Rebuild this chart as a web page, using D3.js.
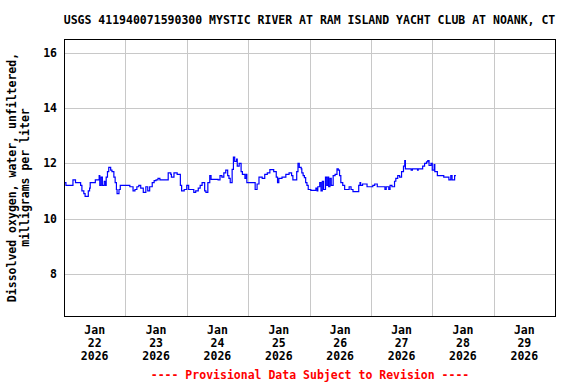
<!DOCTYPE html>
<html>
<head>
<meta charset="utf-8">
<script src="https://cdn.jsdelivr.net/npm/d3@7"></script>
<style>
  body { margin: 0; background: #fff; }
  text { font-family: "DejaVu Sans Mono", monospace; font-weight: bold; }
</style>
</head>
<body>
<div id="chart-container"></div>
<script>
// Dissolved oxygen readings (mg/L)
const obsTimes = [
  "2026-01-22 00:15","2026-01-22 00:45","2026-01-22 03:15","2026-01-22 03:30","2026-01-22 04:30","2026-01-22 05:45",
  "2026-01-22 06:30","2026-01-22 07:00","2026-01-22 07:45","2026-01-22 08:15","2026-01-22 08:45","2026-01-22 09:30",
  "2026-01-22 10:00","2026-01-22 10:15","2026-01-22 11:30","2026-01-22 12:15","2026-01-22 13:15","2026-01-22 13:45",
  "2026-01-22 14:00","2026-01-22 14:30","2026-01-22 15:00","2026-01-22 15:45","2026-01-22 16:15","2026-01-22 16:30",
  "2026-01-22 17:00","2026-01-22 17:30","2026-01-22 18:15","2026-01-22 18:45","2026-01-22 19:30","2026-01-22 20:00",
  "2026-01-22 20:30","2026-01-22 20:45","2026-01-22 21:30","2026-01-22 22:00","2026-01-22 22:45","2026-01-22 23:15",
  "2026-01-23 01:00","2026-01-23 01:45","2026-01-23 03:00","2026-01-23 03:45","2026-01-23 04:30","2026-01-23 05:15",
  "2026-01-23 06:00","2026-01-23 07:00","2026-01-23 08:00","2026-01-23 08:45","2026-01-23 09:30","2026-01-23 10:30",
  "2026-01-23 11:15","2026-01-23 12:00","2026-01-23 12:45","2026-01-23 13:30","2026-01-23 16:00","2026-01-23 16:45",
  "2026-01-23 17:45","2026-01-23 18:00","2026-01-23 19:00","2026-01-23 20:15","2026-01-23 21:15","2026-01-23 21:30",
  "2026-01-23 22:00","2026-01-23 23:00",
  "2026-01-24 00:00","2026-01-24 00:45","2026-01-24 02:00","2026-01-24 02:45","2026-01-24 03:30","2026-01-24 04:30",
  "2026-01-24 05:15","2026-01-24 06:00","2026-01-24 07:00","2026-01-24 07:30","2026-01-24 08:15","2026-01-24 09:00",
  "2026-01-24 09:30","2026-01-24 11:15","2026-01-24 12:15","2026-01-24 13:00","2026-01-24 13:45","2026-01-24 14:30",
  "2026-01-24 15:15","2026-01-24 16:00","2026-01-24 16:30","2026-01-24 17:00","2026-01-24 17:45","2026-01-24 18:15",
  "2026-01-24 18:45","2026-01-24 19:30","2026-01-24 19:45","2026-01-24 20:30","2026-01-24 21:15","2026-01-24 21:45",
  "2026-01-24 22:45","2026-01-24 23:15","2026-01-24 23:30",
  "2026-01-25 00:45","2026-01-25 02:15","2026-01-25 02:45","2026-01-25 03:30","2026-01-25 04:15","2026-01-25 05:30",
  "2026-01-25 06:30","2026-01-25 07:30","2026-01-25 08:30","2026-01-25 09:45","2026-01-25 10:00","2026-01-25 11:00",
  "2026-01-25 11:30","2026-01-25 12:00","2026-01-25 13:15","2026-01-25 14:45","2026-01-25 16:00","2026-01-25 17:00",
  "2026-01-25 17:30","2026-01-25 18:30","2026-01-25 19:00","2026-01-25 19:30","2026-01-25 20:00","2026-01-25 20:45",
  "2026-01-25 21:00","2026-01-25 21:30","2026-01-25 22:00","2026-01-25 22:30","2026-01-25 23:00","2026-01-25 23:30",
  "2026-01-26 00:30","2026-01-26 02:00","2026-01-26 02:30","2026-01-26 03:00","2026-01-26 03:15","2026-01-26 04:00",
  "2026-01-26 04:30","2026-01-26 05:00","2026-01-26 05:30","2026-01-26 06:15","2026-01-26 06:45","2026-01-26 07:15",
  "2026-01-26 07:30","2026-01-26 08:00","2026-01-26 08:30","2026-01-26 09:15","2026-01-26 10:00","2026-01-26 10:45",
  "2026-01-26 11:15","2026-01-26 11:45","2026-01-26 12:15","2026-01-26 13:00","2026-01-26 13:45","2026-01-26 15:00",
  "2026-01-26 15:30","2026-01-26 16:15","2026-01-26 17:00","2026-01-26 19:00","2026-01-26 19:15","2026-01-26 19:45",
  "2026-01-26 20:00","2026-01-26 20:45","2026-01-26 22:00","2026-01-26 22:30","2026-01-26 23:30",
  "2026-01-27 00:45","2026-01-27 01:30","2026-01-27 02:30","2026-01-27 05:00","2026-01-27 05:30","2026-01-27 06:00",
  "2026-01-27 07:00","2026-01-27 07:30","2026-01-27 08:15","2026-01-27 08:45","2026-01-27 09:15","2026-01-27 09:45",
  "2026-01-27 10:30","2026-01-27 11:15","2026-01-27 12:00","2026-01-27 12:45","2026-01-27 13:15","2026-01-27 13:30",
  "2026-01-27 15:15","2026-01-27 15:45","2026-01-27 16:15","2026-01-27 18:15","2026-01-27 18:30","2026-01-27 20:00",
  "2026-01-27 20:15","2026-01-27 21:00","2026-01-27 21:45","2026-01-27 22:15","2026-01-27 22:45","2026-01-27 23:30",
  "2026-01-28 00:00","2026-01-28 00:45","2026-01-28 01:00","2026-01-28 02:00","2026-01-28 03:30","2026-01-28 04:30",
  "2026-01-28 06:15","2026-01-28 06:30","2026-01-28 07:15","2026-01-28 07:45","2026-01-28 08:45","2026-01-28 09:15"
];
const doValues = [
  11.3, 11.2, 11.2, 11.4, 11.3, 11.3,
  11.2, 11.0, 10.9, 10.8, 10.8, 11.0,
  11.1, 11.3, 11.3, 11.4, 11.4, 11.55,
  11.2, 11.5, 11.2, 11.35, 11.2, 11.5,
  11.7, 11.85, 11.75, 11.7, 11.5, 11.3,
  11.05, 10.9, 11.05, 11.2, 11.2, 11.2,
  11.2, 11.15, 11.0, 11.05, 11.15, 11.2,
  11.1, 10.95, 11.15, 11.0, 11.15, 11.3,
  11.37, 11.4, 11.45, 11.4, 11.4, 11.65,
  11.6, 11.5, 11.65, 11.6, 11.6, 11.2,
  11.0, 11.05,
  11.2, 11.05, 11.05, 10.95, 11.0, 11.1,
  11.2, 11.3, 11.0, 10.95, 11.3, 11.55,
  11.42, 11.42, 11.4, 11.55, 11.5, 11.65,
  11.75, 11.55, 11.45, 11.3, 11.78, 12.22,
  12.07, 12.15, 11.9, 12.0, 11.7, 11.6,
  11.45, 11.6, 11.3,
  11.3, 11.3, 11.05, 11.25, 11.5, 11.45,
  11.6, 11.65, 11.77, 11.77, 11.7, 11.5,
  11.3, 11.45, 11.5, 11.6, 11.65, 11.55,
  11.4, 11.4, 11.7, 12.0, 11.85, 11.8,
  11.65, 11.55, 11.48, 11.3, 11.2, 11.05,
  11.02, 11.02, 11.1, 11.0, 11.15, 11.3,
  11.0, 11.35, 11.05, 11.5, 11.2, 11.5,
  11.15, 11.45, 11.2, 11.55, 11.6, 11.8,
  11.75, 11.55, 11.3, 11.2, 11.05, 11.05,
  11.15, 11.05, 10.97, 10.97, 11.2, 11.3,
  11.2, 11.25, 11.25, 11.15, 11.15,
  11.2, 11.25, 11.15, 11.15, 11.05, 11.15,
  11.05, 11.2, 11.15, 11.15, 11.35, 11.45,
  11.55, 11.5, 11.7, 11.9, 12.1, 11.8,
  11.8, 11.75, 11.8, 11.75, 11.8, 11.8,
  11.9, 12.0, 12.05, 12.1, 11.92, 12.0,
  11.75, 11.95, 11.7, 11.55, 11.55, 11.5,
  11.5, 11.4, 11.55, 11.4, 11.55, 11.55
];

const dayLabels = ["22", "23", "24", "25", "26", "27", "28", "29"];
const yTicks = [8, 10, 12, 14, 16];

const width = 576;
const height = 384;
const margin = { top: 39, right: 21, bottom: 68, left: 64 };

const parseTime = d3.timeParse("%Y-%m-%d %H:%M");
const data = obsTimes.map((t, i) => ({ date: parseTime(t), value: doValues[i] }));

const svg = d3.select("#chart-container")
  .append("svg")
  .attr("width", width)
  .attr("height", height);

const xScale = d3.scaleTime()
  .domain([parseTime("2026-01-22 00:00"), parseTime("2026-01-30 00:00")])
  .range([margin.left, width - margin.right]);

const yScale = d3.scaleLinear()
  .domain([6.47, 16.5])
  .range([height - margin.bottom, margin.top]);

// gridlines
const dayStarts = d3.timeDay.range(parseTime("2026-01-23 00:00"), parseTime("2026-01-30 00:00"));
svg.append("g")
  .selectAll("line")
  .data(dayStarts)
  .join("line")
  .attr("x1", d => Math.round(xScale(d)) + 0.5)
  .attr("x2", d => Math.round(xScale(d)) + 0.5)
  .attr("y1", margin.top)
  .attr("y2", height - margin.bottom)
  .attr("stroke", "#c8c8c8");

svg.append("g")
  .selectAll("line")
  .data(yTicks)
  .join("line")
  .attr("x1", margin.left)
  .attr("x2", width - margin.right)
  .attr("y1", d => Math.round(yScale(d)) + 0.5)
  .attr("y2", d => Math.round(yScale(d)) + 0.5)
  .attr("stroke", "#c8c8c8");

// data line, stepped like the 15-minute record
const line = d3.line()
  .curve(d3.curveStepAfter)
  .x(d => xScale(d.date))
  .y(d => yScale(d.value));

svg.append("path")
  .datum(data)
  .attr("fill", "none")
  .attr("stroke", "#0000ff")
  .attr("stroke-width", 1.2)
  .attr("d", line);

// frame
svg.append("rect")
  .attr("x", margin.left + 0.5)
  .attr("y", margin.top + 0.5)
  .attr("width", width - margin.left - margin.right)
  .attr("height", height - margin.top - margin.bottom)
  .attr("fill", "none")
  .attr("stroke", "#000");

// y tick labels
svg.append("g")
  .selectAll("text")
  .data(yTicks)
  .join("text")
  .attr("x", 57)
  .attr("y", d => yScale(d) + 4)
  .attr("text-anchor", "end")
  .attr("font-size", "11.5px")
  .text(d => d);

// x tick labels, centred on noon of each day
const noon = d3.timeDay.range(parseTime("2026-01-22 00:00"), parseTime("2026-01-30 00:00"))
  .map(d => d3.timeHour.offset(d, 12));
const xLab = svg.append("g")
  .selectAll("text")
  .data(noon)
  .join("text")
  .attr("text-anchor", "middle")
  .attr("font-size", "11.5px")
  .attr("transform", d => `translate(${xScale(d)},334)`);
xLab.append("tspan").attr("x", 0).attr("y", 0).text("Jan");
xLab.append("tspan").attr("x", 0).attr("y", 13).text((d, i) => dayLabels[i]);
xLab.append("tspan").attr("x", 0).attr("y", 26).text("2026");

// title
svg.append("text")
  .attr("x", (margin.left + width - margin.right) / 2)
  .attr("y", 24)
  .attr("text-anchor", "middle")
  .attr("font-size", "11.5px")
  .text("USGS 411940071590300 MYSTIC RIVER AT RAM ISLAND YACHT CLUB AT NOANK, CT");

// y axis label
const yMid = (margin.top + height - margin.bottom) / 2;
svg.append("text")
  .attr("transform", `translate(16,${yMid}) rotate(-90)`)
  .attr("text-anchor", "middle")
  .attr("font-size", "11.5px")
  .text("Dissolved oxygen, water, unfiltered,");
svg.append("text")
  .attr("transform", `translate(29,${yMid}) rotate(-90)`)
  .attr("text-anchor", "middle")
  .attr("font-size", "11.5px")
  .text("milligrams per liter");

// footer
svg.append("text")
  .attr("x", 310)
  .attr("y", 379)
  .attr("text-anchor", "middle")
  .attr("font-size", "11.5px")
  .attr("fill", "#ff0000")
  .text("---- Provisional Data Subject to Revision ----");
</script>
</body>
</html>
